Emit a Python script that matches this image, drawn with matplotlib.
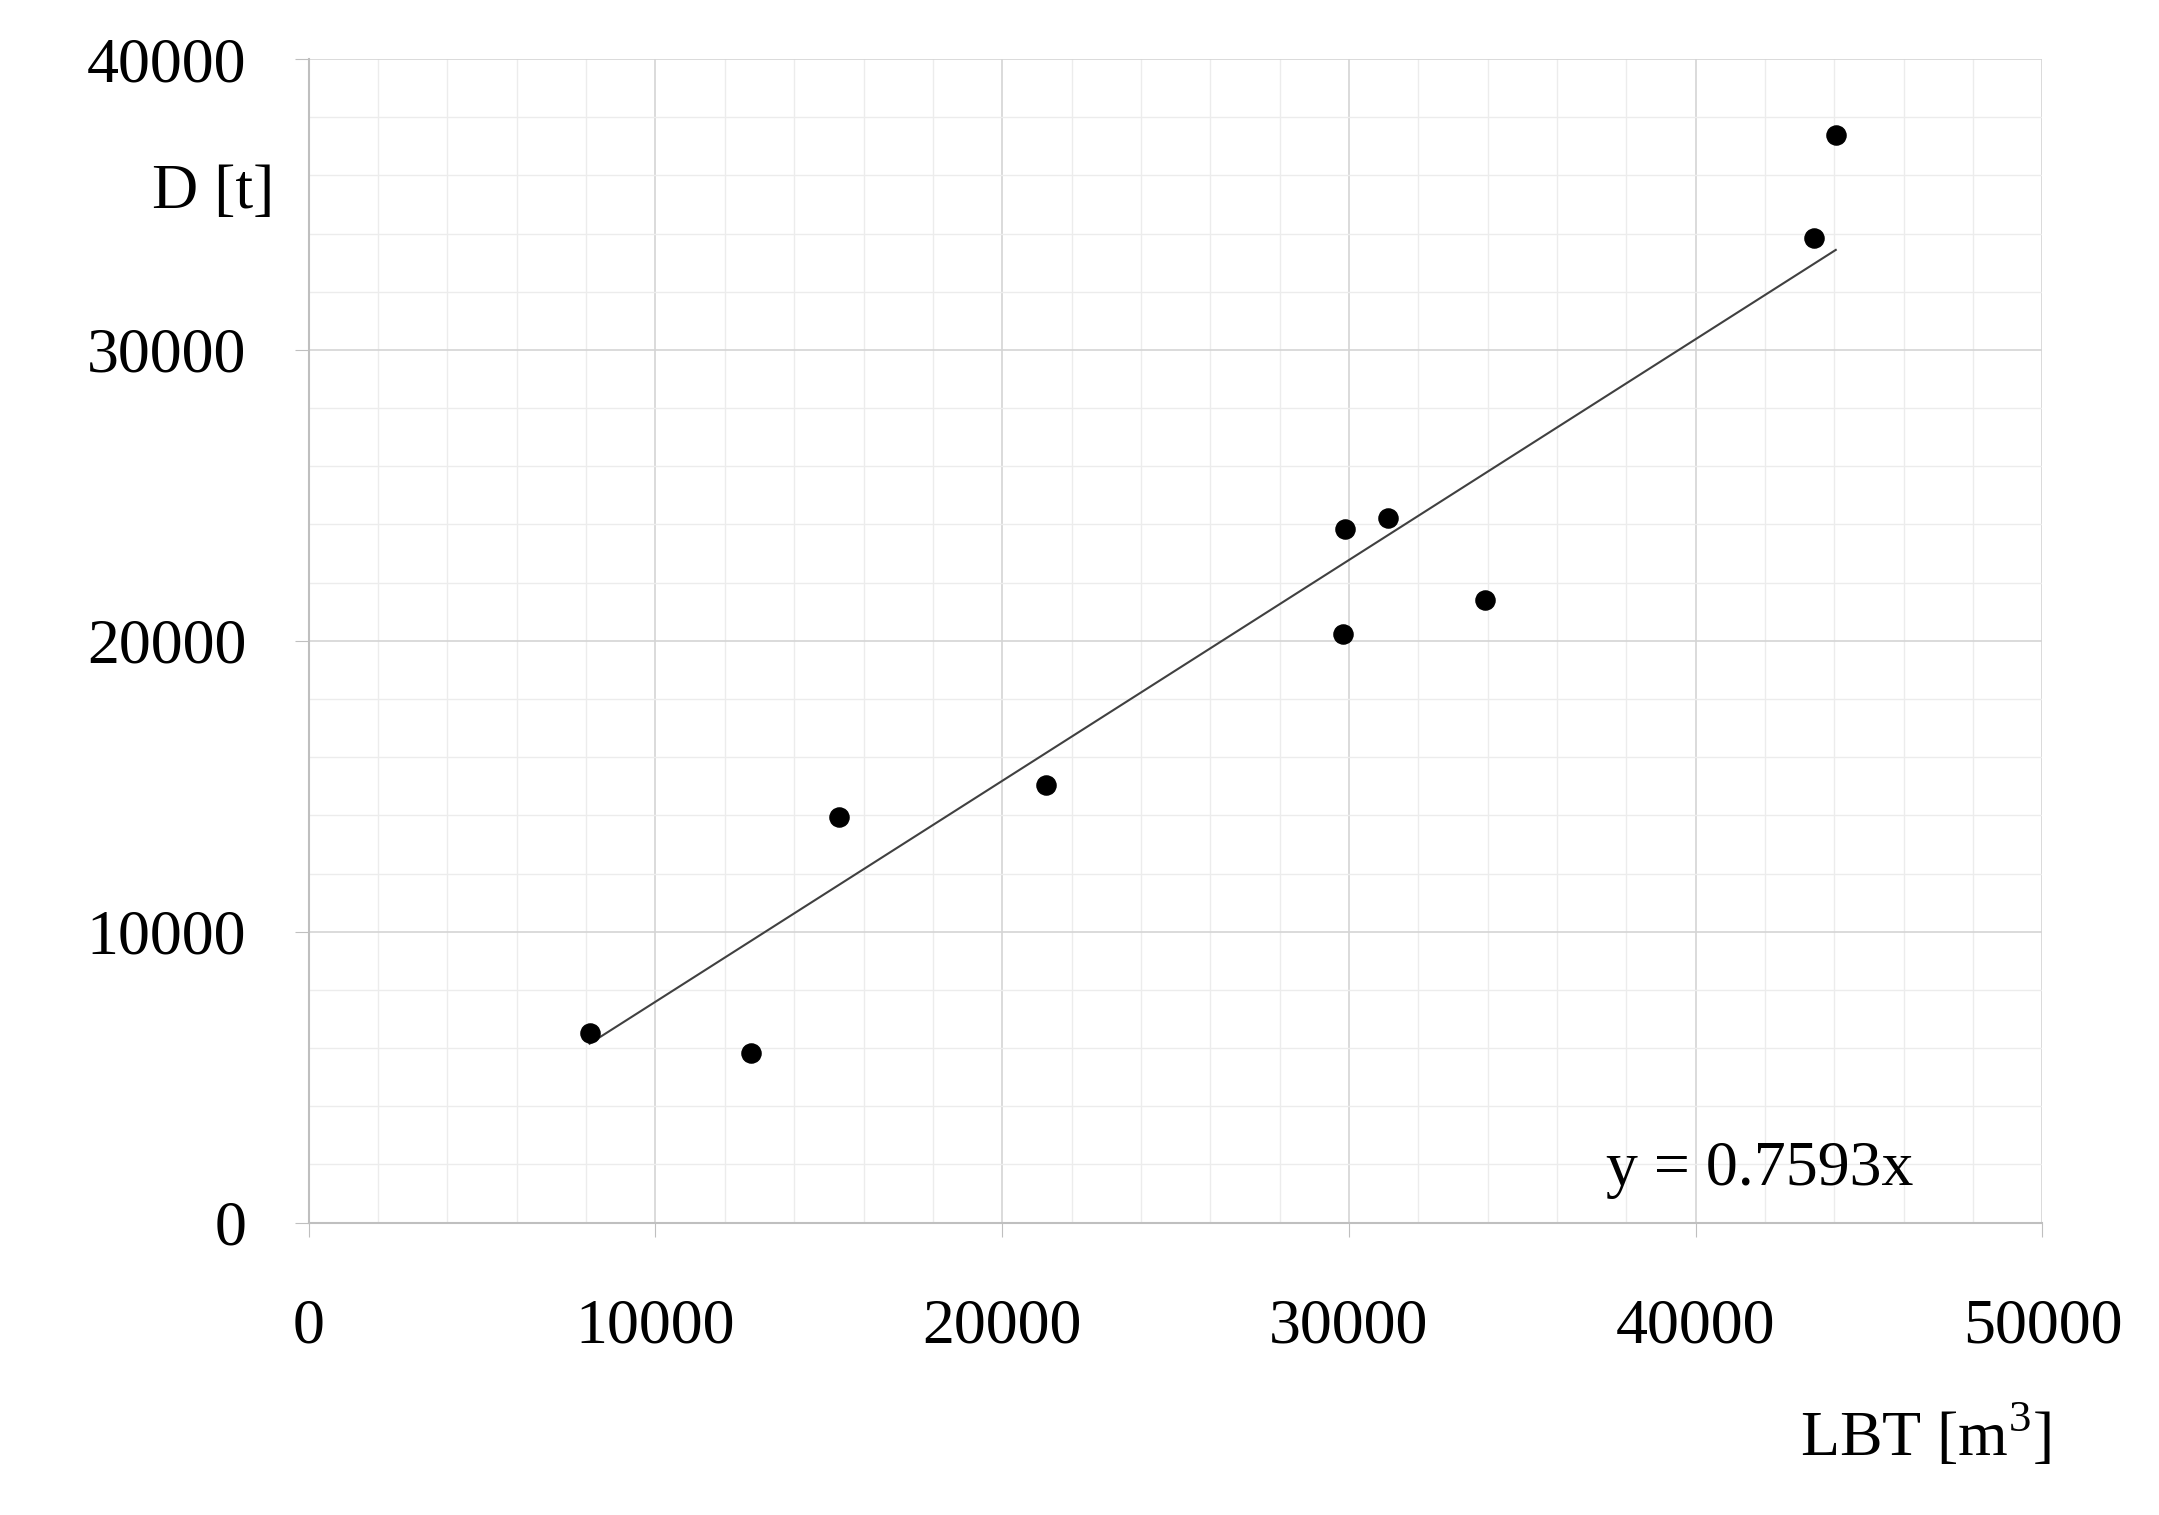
import matplotlib
matplotlib.use("Agg")
import matplotlib.pyplot as plt
import numpy as np
from matplotlib.ticker import MultipleLocator

lbt = [8100, 12750, 15290, 21250, 29900, 29830, 31140, 33920, 43410, 44040]
d = [6520, 5815, 13950, 15040, 23830, 20240, 24210, 21420, 33850, 37400]
slope = 0.7593

plt.rcParams['font.family'] = ['Liberation Serif', 'DejaVu Serif']
plt.rcParams['mathtext.fontset'] = 'custom'
plt.rcParams['mathtext.rm'] = 'Liberation Serif'
fig = plt.figure(figsize=(21.59, 15.15), dpi=100)
ax = fig.add_axes([0.143, 0.193, 0.803, 0.768])
ax.set_xlim(0, 50000)
ax.set_ylim(0, 40000)
ax.xaxis.set_major_locator(MultipleLocator(10000))
ax.xaxis.set_minor_locator(MultipleLocator(2000))
ax.yaxis.set_major_locator(MultipleLocator(10000))
ax.yaxis.set_minor_locator(MultipleLocator(2000))
ax.grid(which='major', color='#d4d4d4', lw=1.2)
ax.grid(which='minor', color='#ececec', lw=1.0)
ax.set_axisbelow(True)
for s in ['top', 'right']:
    ax.spines[s].set_visible(False)
for s in ['left', 'bottom']:
    ax.spines[s].set_color('#bfbfbf')
    ax.spines[s].set_linewidth(1.5)
ax.tick_params(which='major', length=10, color='#bfbfbf', labelsize=46)
ax.tick_params(which='minor', length=0)
ax.tick_params(axis='x', pad=45)
ax.tick_params(axis='y', pad=35)

xs = np.array([min(lbt), max(lbt)])
ax.plot(xs, slope * xs, color='#404040', lw=1.5)
ax.scatter(lbt, d, s=190, color='black', zorder=3)

ax.text(-0.02, 0.885, 'D [t]', transform=ax.transAxes, fontsize=46, ha='right', va='center')
fig.text(0.95, 0.03, 'LBT [m$^\\mathregular{3}$]', fontsize=46, ha='right', va='bottom')
ax.text(37400, 800, 'y = 0.7593x', fontsize=46, ha='left', va='bottom')

fig.savefig('out.png', dpi=100)
